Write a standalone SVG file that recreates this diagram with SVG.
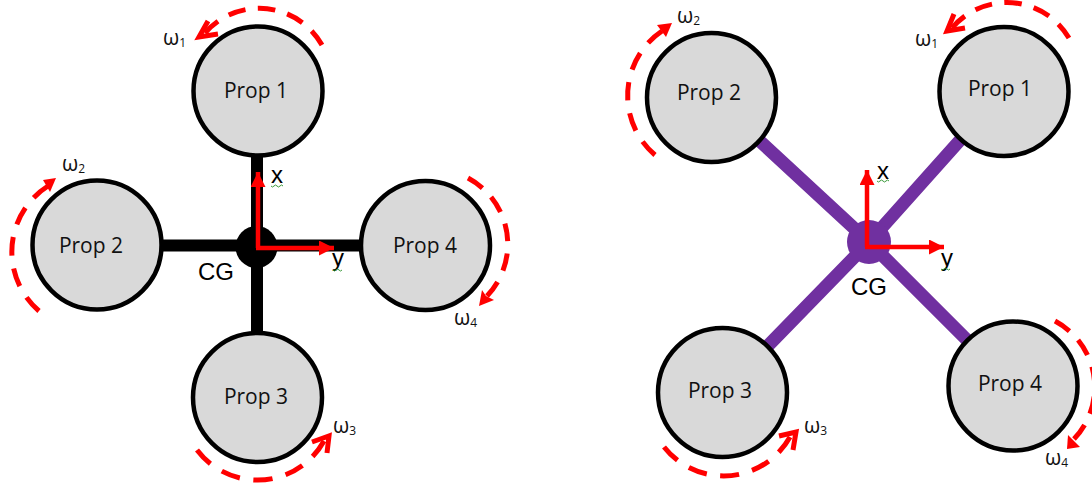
<svg xmlns="http://www.w3.org/2000/svg" width="1092" height="484" viewBox="0 0 1092 484">
<style>
.prop{fill:#d9d9d9;stroke:#000;stroke-width:4.5}
.lbl{font-family:"Open Sans","Noto Sans",sans-serif;font-size:21px;fill:#111;text-anchor:middle}
.w{font-family:"Open Sans","Noto Sans",sans-serif;font-size:21px;fill:#111}
.w tspan{font-size:12px}
.ax{font-family:"Liberation Sans",sans-serif;font-size:24px;fill:#000}
.arm{stroke:#000;stroke-width:12;fill:none}
.armp{stroke:#7030a0;stroke-width:13;fill:none}
.axis{stroke:#f00;stroke-width:4.5;fill:none;marker-end:url(#ah)}
.spin{stroke:#f00;stroke-width:5;fill:none;stroke-dasharray:17 12}
.head{stroke:#f00;stroke-width:5;fill:none}
.headf{fill:#f00}
.sq{stroke:#3a9a3a;stroke-width:1;fill:none}
</style>
<defs>
<marker id="ah" markerUnits="userSpaceOnUse" markerWidth="16" markerHeight="16" refX="15" refY="7.500" orient="auto"><path d="M0 0L15 7.500L0 15z" fill="#f00"/></marker>
</defs>
<g id="connectors">
<path class="arm" d="M97 245.500H426M257 91V398"/>
<path class="armp" d="M712 97L869 242M1004 91L869 242M723 392L869 242M1013 386L869 242"/>
</g>
<g id="left-cg"><circle cx="256.500" cy="247" r="21" fill="#000"/><text class="ax" x="198" y="280">CG</text></g>
<g id="right-cg"><circle cx="869" cy="242" r="22" fill="#7030a0"/><text class="ax" x="851" y="295">CG</text></g>
<g id="l-prop1"><circle class="prop" cx="258" cy="91" r="64.500"/><text class="lbl" x="256" y="98">Prop 1</text></g>
<g id="l-prop2"><circle class="prop" cx="97" cy="245" r="64.500"/><text class="lbl" x="91" y="253">Prop 2</text></g>
<g id="l-prop3"><circle class="prop" cx="257.500" cy="397.500" r="64.500"/><text class="lbl" x="256" y="404">Prop 3</text></g>
<g id="l-prop4"><circle class="prop" cx="425.500" cy="245.500" r="64.500"/><text class="lbl" x="425" y="253">Prop 4</text></g>
<g id="r-prop1"><circle class="prop" cx="1004" cy="91.500" r="64.500"/><text class="lbl" x="1000" y="96">Prop 1</text></g>
<g id="r-prop2"><circle class="prop" cx="711.500" cy="97.500" r="64.500"/><text class="lbl" x="709" y="100">Prop 2</text></g>
<g id="r-prop3"><circle class="prop" cx="722.500" cy="392.500" r="64.500"/><text class="lbl" x="720" y="398">Prop 3</text></g>
<g id="r-prop4"><circle class="prop" cx="1013" cy="386" r="64.500"/><text class="lbl" x="1010" y="391">Prop 4</text></g>
<g id="axes">
<path class="axis" d="M258 248V172"/>
<path class="axis" d="M256 248H334"/>
<path class="axis" d="M867 247V170"/>
<path class="axis" d="M865 247H944"/>
</g>
<g id="spin-arrows">
<path class="spin" pathLength="133" d="M205 33A72 72 0 0 1 322 45"/><path class="head" d="M208 21L199 37L218 34"/>
<path class="spin" pathLength="133" d="M48 186A78 78 0 0 0 39 311"/><path class="headf" d="M56 178L43 180L50 192z"/>
<path class="spin" pathLength="133" d="M487 296A75 75 0 0 0 468 178"/><path class="headf" d="M479 306L482 290L486 296L494 300z"/>
<path class="spin" pathLength="133" d="M324 441A76 76 0 0 1 197 450"/><path class="head" d="M312 442L329 436L327 453"/>
<path class="spin" pathLength="133" d="M952 28A72 72 0 0 1 1069 38"/><path class="head" d="M954 14L947 31L965 28"/>
<path class="spin" pathLength="133" d="M662 31A78 78 0 0 0 655 155"/><path class="headf" d="M672 23L657 25L666 37z"/>
<path class="spin" pathLength="133" d="M1074 439A75 75 0 0 0 1055 321"/><path class="headf" d="M1067 449L1068 435L1073 440L1080 447z"/>
<path class="spin" pathLength="133" d="M790 437A76 76 0 0 1 664 447"/><path class="head" d="M779 436L796 432L793 450"/>
</g>
<g id="labels">
<text class="w" x="163" y="45">ω<tspan dy="2">1</tspan></text>
<text class="w" x="62" y="171">ω<tspan dy="2">2</tspan></text>
<text class="w" x="333" y="433">ω<tspan dy="2">3</tspan></text>
<text class="w" x="454" y="325">ω<tspan dy="2">4</tspan></text>
<text class="w" x="915" y="46">ω<tspan dy="2">1</tspan></text>
<text class="w" x="677" y="23">ω<tspan dy="2">2</tspan></text>
<text class="w" x="804" y="433">ω<tspan dy="2">3</tspan></text>
<text class="w" x="1045" y="465">ω<tspan dy="2">4</tspan></text>
<text class="ax" x="271" y="183">x</text>
<path class="sq" d="M271 186q1.500 2 3 0t3 0t3 0t3 0"/>
<text class="ax" x="332" y="266">y</text>
<path class="sq" d="M333 270q1.500 2 3 0t3 0t3 0"/>
<text class="ax" x="877" y="179">x</text>
<path class="sq" d="M877 181q1.500 2 3 0t3 0t3 0t3 0"/>
<text class="ax" x="941" y="266">y</text>
<path class="sq" d="M941 269q1.500 2 3 0t3 0t3 0"/>
</g>
</svg>
